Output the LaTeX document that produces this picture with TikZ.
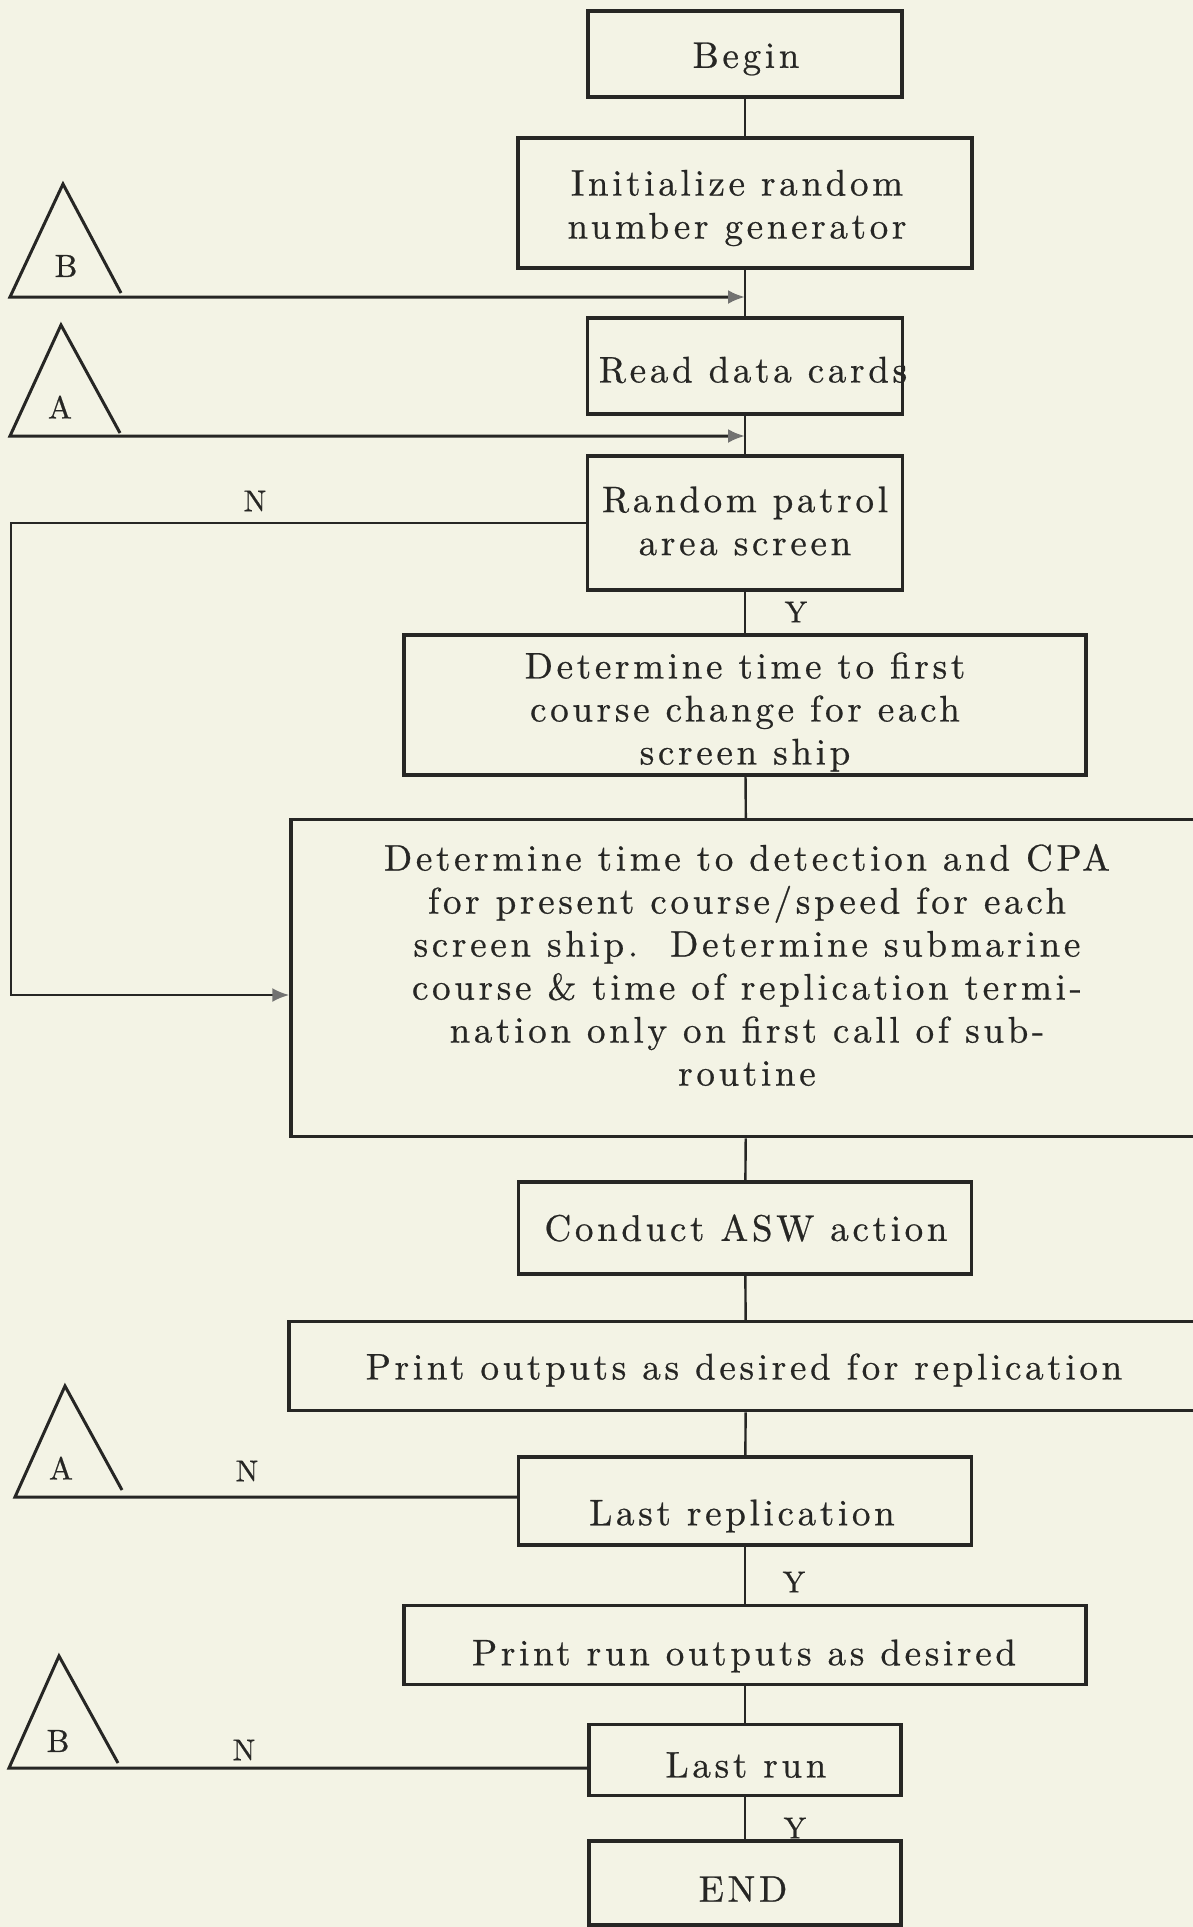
\documentclass[tikz,border=0pt]{standalone}
\usepackage{fontspec}
\usetikzlibrary{arrows.meta}
\newfontfamily\boxfont{lmroman10-regular.otf}[LetterSpace=10, FakeBold=0.6]
\newfontfamily\lblfont{lmroman10-regular.otf}[FakeBold=0.6]
\definecolor{paper}{RGB}{243,243,229}
\definecolor{ink}{RGB}{38,38,36}
\begin{document}
\begin{tikzpicture}[x=1pt,y=-1pt,
  tx/.style={text=ink, align=center, inner sep=0pt, font=\boxfont\fontsize{37}{43}\selectfont},
  box/.style={draw=ink, line width=3.5pt, inner sep=0pt},
  conn/.style={draw=ink, line width=2.4pt},
  tip/.style={-{Latex[length=17pt,width=14pt,color=ink!65]}},
  tri/.style={draw=ink, line width=3pt, line join=miter},
  lbl/.style={text=ink, font=\lblfont\fontsize{30}{32}\selectfont},
  trilbl/.style={text=ink, font=\lblfont\fontsize{32}{34}\selectfont},
]
\fill[paper] (0,0) rectangle (1193,1927);
\useasboundingbox (0,0) rectangle (1193,1927);

% boxes
\node[box, minimum width=314pt, minimum height=86pt] (begin) at (745,54) {};
\node[box, minimum width=454pt, minimum height=130pt] (init) at (745,203) {};
\node[box, minimum width=315pt, minimum height=96pt] (read) at (745,366) {};
\node[box, minimum width=315pt, minimum height=134pt] (rand) at (745,523) {};
\node[box, minimum width=682pt, minimum height=140pt] (first) at (745,705) {};
\node[box, minimum width=912pt, minimum height=317pt] (big) at (747,978) {};
\node[box, minimum width=453pt, minimum height=92pt] (asw) at (745,1228) {};
\node[box, minimum width=914pt, minimum height=89pt] (pout) at (746,1366) {};
\node[box, minimum width=453pt, minimum height=88pt] (lastrep) at (745,1501) {};
\node[box, minimum width=682pt, minimum height=79pt] (prun) at (745,1645) {};
\node[box, minimum width=312pt, minimum height=71pt] (lastrun) at (745,1760) {};
\node[box, minimum width=312pt, minimum height=84pt] (endn) at (745,1883) {};

% box texts
\node[tx] (beginT) at (746,59) {Begin};
\node[tx] (initT) at (737,208) {Initialize random\\number generator};
\node[tx] (readT) at (753,370) {Read data cards};
\node[tx] (randT) at (745,521) {Random patrol\\area screen};
\node[tx] (firstT) at (745,712) {Determine time to first\\course change for each\\screen ship};
\node[tx] (bigT) at (747,965) {Determine time to detection and CPA\\for present course/speed for each\\screen ship.\ \ Determine submarine\\course \& time of replication termi-\\nation only on first call of sub-\\routine};
\node[tx] (aswT) at (746,1228) {Conduct ASW action};
\node[tx] (poutT) at (744,1370) {Print outputs as desired for replication};
\node[tx] (lastrepT) at (742,1516) {Last replication};
\node[tx] (prunT) at (744,1656) {Print run outputs as desired};
\node[tx] (lastrunT) at (746,1765) {Last run};
\node[tx] (endT) at (743,1889) {END};

% spine connectors
\draw[conn] (begin) -- (init);
\draw[conn] (init) -- (read);
\draw[conn] (read) -- (rand);
\draw[conn] (rand) -- (first);
\draw[conn] (first) -- (big);
\draw[conn] (big) -- (asw);
\draw[conn] (asw) -- (pout);
\draw[conn] (pout) -- (lastrep);
\draw[conn] (lastrep) -- (prun);
\draw[conn] (prun) -- (lastrun);
\draw[conn] (lastrun) -- (endn);

% Y / N labels
\node[lbl] (y1) at (796,612) {Y};
\node[lbl] (y2) at (794,1582) {Y};
\node[lbl] (y3) at (795,1828) {Y};
\node[lbl] (n1) at (255,501) {N};
\node[lbl] (n2) at (247,1471) {N};
\node[lbl] (n3) at (244,1750) {N};

% connector B (top)
\coordinate (tb1a) at (63,184);
\coordinate (tb1l) at (10,297);
\coordinate (tb1r) at (121,293);
\draw[tri, tip] (tb1r) -- (tb1a) -- (tb1l) -- (tb1l -| init.south);
\node[trilbl] (tb1t) at (66,266) {B};

% connector A (top)
\coordinate (ta1a) at (61,325);
\coordinate (ta1l) at (10,436);
\coordinate (ta1r) at (120,433);
\draw[tri, tip] (ta1r) -- (ta1a) -- (ta1l) -- (ta1l -| read.south);
\node[trilbl] (ta1t) at (60,407) {A};

% N loop from random patrol
\coordinate (lp1) at (11,523);
\coordinate (lp2) at (11,995);
\draw[conn, tip] (rand.west) -- (lp1) -- (lp2) -- (lp2 -| big.west);

% connector A (bottom)
\coordinate (ta2a) at (65,1386);
\coordinate (ta2l) at (15,1497);
\coordinate (ta2r) at (122,1490);
\draw[tri] (ta2r) -- (ta2a) -- (ta2l) -- (ta2l -| lastrep.west);
\node[trilbl] (ta2t) at (61,1468) {A};

% connector B (bottom)
\coordinate (tb2a) at (59,1656);
\coordinate (tb2l) at (9,1768);
\coordinate (tb2r) at (118,1763);
\draw[tri] (tb2r) -- (tb2a) -- (tb2l) -- (tb2l -| lastrun.west);
\node[trilbl] (tb2t) at (58,1741) {B};
\end{tikzpicture}
\end{document}
